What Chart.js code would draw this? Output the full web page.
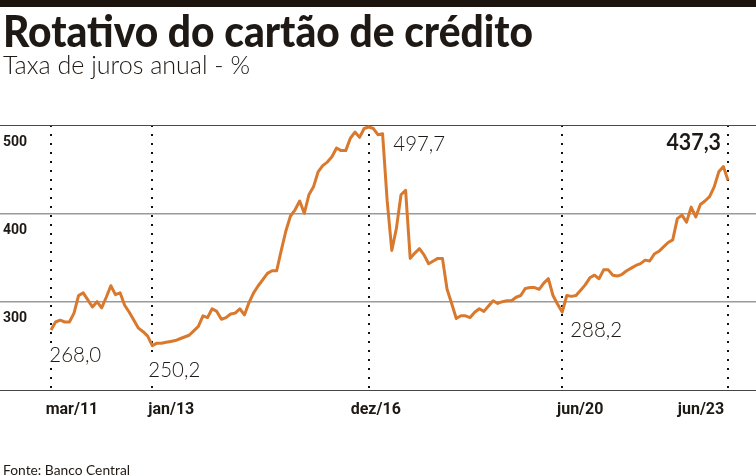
<!DOCTYPE html>
<html>
<head>
<meta charset="utf-8">
<script src="https://cdn.jsdelivr.net/npm/chart.js@4.4.0/dist/chart.umd.min.js"></script>
<style>
  html, body { margin: 0; padding: 0; background: #fff; }
  #wrap { width: 756px; height: 476px; position: relative; }
</style>
</head>
<body>
<div id="wrap"><canvas id="rotativoChart" width="756" height="476"></canvas></div>
<script>
// DATA - taxa de juros anual do rotativo (%), mensal de mar/11 a jun/23
const firstMonth = "mar/11";
const rate = [
  268.0, 277, 279, 277, 277, 287, 307, 310, 302, 294, 300, 293,
  305, 318, 308, 310, 296, 288, 279, 270, 266, 261, 250.2, 253,
  253, 254, 255, 256, 258, 260, 262, 267, 272, 284, 282, 292,
  289, 280, 282, 286, 287, 292, 285, 299, 310, 318, 325, 332,
  335, 335, 358, 380, 397, 404, 414, 400, 421, 430, 447, 454,
  458, 464, 474, 471, 471, 485, 492, 486, 496, 497.7, 496, 489,
  490, 414, 358, 383, 421, 426, 349, 355, 360, 353, 343, 346,
  349, 349, 314, 298, 281, 284, 284, 282, 288, 292, 289, 295,
  301, 298, 300, 301, 301, 305, 307, 315, 316, 316, 314, 321,
  326, 307, 297, 288.2, 307, 306, 307, 313, 319, 327, 330, 326,
  336, 336, 330, 329, 331, 335, 338, 341, 343, 347, 346, 354,
  357, 362, 367, 370, 394, 398, 390, 407, 396, 410, 414, 419,
  430, 447, 453, 437.3
];
// meses marcados (indice a partir de mar/11)
const markerMonths = [0, 22, 69, 111, 147];
const markerLabels = ["mar/11", "jan/13", "dez/16", "jun/20", "jun/23"];
const yTicks = [200, 300, 400, 500];
const calloutMonths = [0, 22, 69, 111, 147];

// LAYOUT
const W = 756, H = 476;
const xMin = -11.07, xMax = 153.08;
const pxPerMonth = W / (xMax - xMin);
// deslocamento (px) do rotulo em relacao a linha pontilhada
const labelShift = [21, 19, 7, 18, -27];
// posicao dos numeros destacados em relacao ao ponto: dx, dy (linha de base), alinhamento, negrito
const calloutPos = [
  [-1.7, 31.7, "left", false],
  [-4, 31, "left", false],
  [24.5, 23.7, "left", false],
  [8, 25.3, "left", false],
  [-7, -30.4, "right", true]
];
const ink = "#1e1915";
const orange = "#d9792e";

function fitText(ctx, text, x, y, font, width, align) {
  ctx.save();
  ctx.font = font;
  const w = ctx.measureText(text).width;
  ctx.translate(x, y);
  ctx.scale(width / w, 1);
  ctx.textAlign = align || "left";
  ctx.textBaseline = "alphabetic";
  ctx.fillText(text, 0, 0);
  ctx.restore();
}

const decor = {
  id: "decor",
  beforeDraw(chart) {
    const ctx = chart.ctx;
    ctx.save();
    ctx.fillStyle = "#fff";
    ctx.fillRect(0, 0, W, H);
    ctx.fillStyle = "#1b130c";
    ctx.fillRect(0, 0, W, 7);
    ctx.restore();
  },
  afterDraw(chart) {
    const ctx = chart.ctx;
    const xs = chart.scales.x, ys = chart.scales.y;
    ctx.save();
    ctx.fillStyle = ink;
    fitText(ctx, "Rotativo do cartão de crédito", 3, 46.7, "900 43px Lato", 530, "left");
    fitText(ctx, "Taxa de juros anual - %", 3, 74, "300 25px Lato", 247, "left");
    fitText(ctx, "Fonte: Banco Central", 3, 475, "13px Lato", 127, "left");

    calloutMonths.forEach((m, k) => {
      const v = rate[m];
      const txt = v.toFixed(1).replace(".", ",");
      const [dx, dy, align, bold] = calloutPos[k];
      const px = xs.getPixelForValue(m) + dx;
      const py = ys.getPixelForValue(v) + dy;
      const font = (bold ? "bold" : "300") + " 22px Lato";
      ctx.font = font;
      const w = ctx.measureText(txt).width * (bold ? 0.97 : 0.93);
      const left = align === "right" ? px - w : px;
      ctx.fillStyle = "#fff";
      ctx.fillRect(left - 2, py - 18, w + 4, 23);
      ctx.fillStyle = ink;
      fitText(ctx, txt, px, py, font, w, align);
    });
    ctx.restore();
  }
};

const points = rate.map((v, i) => ({ x: i, y: v }));

new Chart(document.getElementById("rotativoChart"), {
  type: "line",
  data: {
    datasets: [{
      label: "Rotativo (" + firstMonth + " em diante)",
      data: points,
      borderColor: orange,
      borderWidth: 3,
      pointRadius: 0,
      tension: 0,
      clip: false,
      borderJoinStyle: "round"
    }]
  },
  options: {
    responsive: false,
    animation: false,
    events: [],
    layout: { padding: { top: 125, left: 0, right: 0, bottom: 46 } },
    plugins: { legend: { display: false }, tooltip: { enabled: false }, title: { display: false } },
    scales: {
      x: {
        type: "linear",
        min: xMin, max: xMax,
        position: "bottom",
        grid: { display: true, color: "#111", lineWidth: 2, drawTicks: false, tickLength: 0 },
        border: { display: false, dash: [2, 7] },
        ticks: { display: false },
        afterBuildTicks: s => { s.ticks = markerMonths.map(v => ({ value: v })); },
        afterFit: s => { s.height = 0; }
      },
      xLabels: {
        type: "linear",
        min: xMin, max: xMax,
        position: "bottom",
        grid: { display: false, drawTicks: false, tickLength: 0 },
        border: { display: true, color: "#444", width: 1 },
        ticks: {
          autoSkip: false, maxRotation: 0, padding: 10,
          color: ink,
          font: { family: "Roboto", weight: "bold", size: 16 },
          callback: (v, i) => markerLabels[i]
        },
        afterBuildTicks: s => {
          s.ticks = markerMonths.map((m, k) => ({ value: m + labelShift[k] / pxPerMonth }));
        },
        afterFit: s => { s.height = 40; }
      },
      y: {
        type: "linear",
        min: 200, max: 500,
        position: "left",
        grid: {
          drawTicks: false, tickLength: 0,
          color: c => (c.tick && (c.tick.value === 500 || c.tick.value === 200)) ? "#4a4a4a" : "#9a9a9a",
          lineWidth: c => (c.tick && (c.tick.value === 500 || c.tick.value === 200)) ? 1 : 1.6
        },
        border: { display: false },
        ticks: {
          mirror: true, padding: 3, labelOffset: 17,
          color: ink,
          font: { family: "Roboto", weight: "bold", size: 14 },
          callback: v => (v === 200 ? "" : v)
        },
        afterBuildTicks: s => { s.ticks = yTicks.map(v => ({ value: v })); },
        afterFit: s => { s.width = 0; }
      }
    }
  },
  plugins: [decor]
});
</script>
</body>
</html>
